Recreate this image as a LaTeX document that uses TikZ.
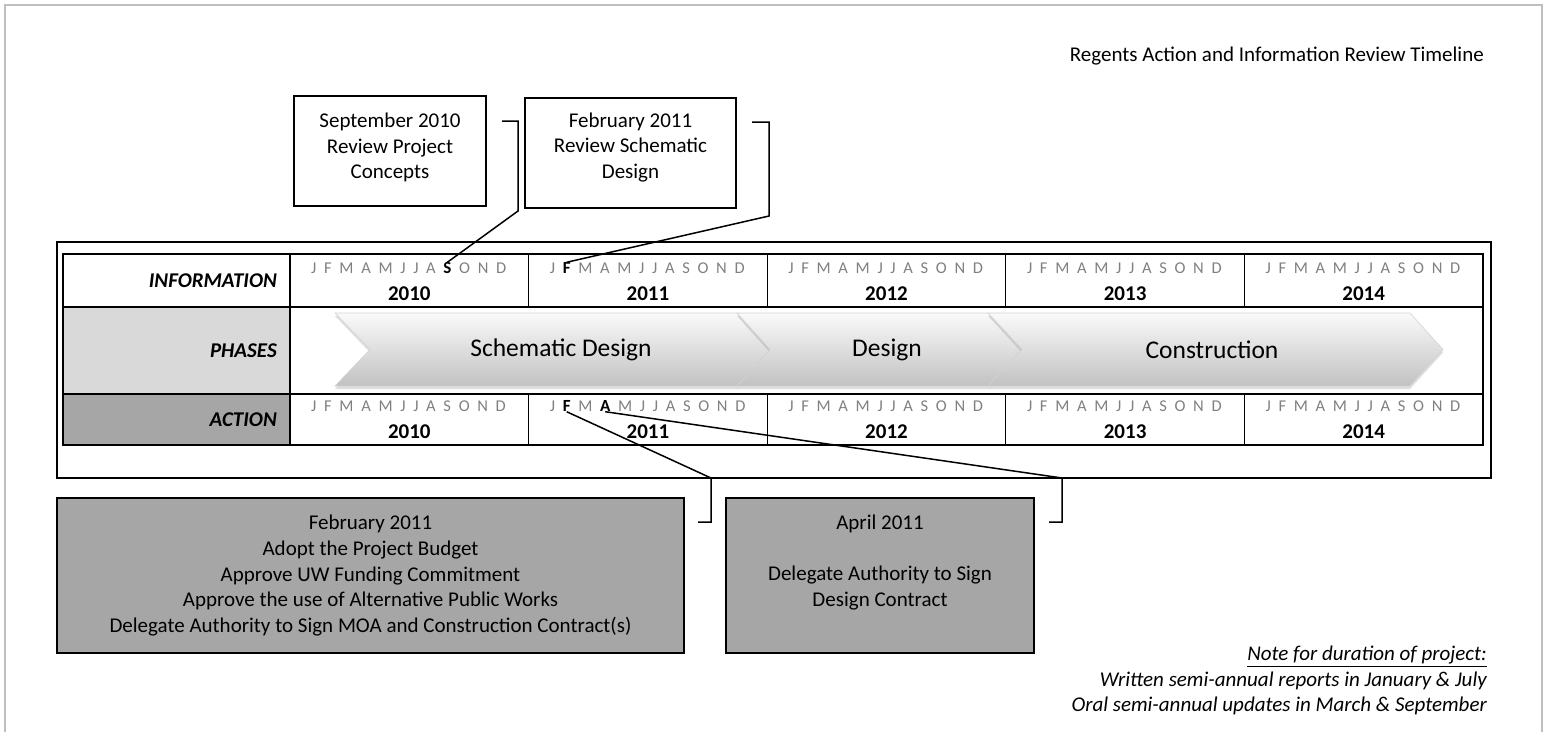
\documentclass[tikz,border=0pt]{standalone}
\usepackage{fontspec}
\setmainfont{Carlito}
\usetikzlibrary{positioning,shadows}
\definecolor{lightcell}{HTML}{D9D9D9}
\definecolor{darkcell}{HTML}{A6A6A6}
\definecolor{monthgray}{HTML}{808080}
\definecolor{pageline}{HTML}{BFBFBF}

\begin{document}
\begin{tikzpicture}[x=1pt,y=-1pt,
	txt/.style={font=\fontsize{21}{25.6}\selectfont,inner sep=0pt,align=center},
	callout/.style={rectangle,draw,line width=1.5pt,inner sep=0pt},
	actionbox/.style={callout,fill=darkcell},
	rowlabel/.style={anchor=east,inner sep=0pt,font=\fontsize{21}{24}\selectfont\bfseries\itshape},
	month/.style={inner sep=0pt,text=monthgray,font=\fontsize{16.5}{18}\selectfont},
	bold month/.style={text=black,font=\fontsize{17}{18}\selectfont\bfseries},
	hl info-2010-9/.style={bold month},
	hl info-2011-2/.style={bold month},
	hl act-2011-2/.style={bold month},
	hl act-2011-4/.style={bold month},
	year/.style={anchor=base,inner sep=0pt,font=\fontsize{21}{24}\selectfont\bfseries},
	phase/.style={top color=gray!4,bottom color=gray!48,draw=gray!35,line width=0.6pt,drop shadow={opacity=0.25,shadow xshift=0pt,shadow yshift=-3pt}},
	phasetext/.style={inner sep=0pt,font=\fontsize{25.5}{28}\selectfont},
	leader/.style={line width=1.5pt}]
	\useasboundingbox (0,0) rectangle (1546,732);
	\draw[pageline,line width=2pt] (5,732) -- (5,5) -- (1542,5) -- (1542,732);
	\node[txt,anchor=base east] (title) at (1484,61) {Regents Action and Information Review Timeline};

	\node[callout,minimum width=192pt,minimum height=110pt] (sepbox) at (390,151) {};
	\node[txt] (septext) at (390,147.5) {September 2010\\Review Project\\Concepts};
	\node[callout,minimum width=211pt,minimum height=110pt] (febbox) at (630.5,153) {};
	\node[txt] (febtext) at (630.5,147.5) {February 2011\\Review Schematic\\Design};

	\draw[line width=2pt] (57,242) rectangle (1491,478);
	\fill[lightcell] (63,307) rectangle (290,394);
	\fill[darkcell] (63,394) rectangle (290,445);
	\draw[line width=1.5pt] (63,254) rectangle (1483,445);
	\draw[line width=1.5pt] (63,307) -- (1483,307) (63,394) -- (1483,394) (290,254) -- (290,445);
	\foreach \x in {528.6,767.2,1005.8,1244.4}
		\draw[line width=1.2pt] (\x,254) -- (\x,307) (\x,394) -- (\x,445);

	\node[rowlabel] (inforow) at (277,280.5) {INFORMATION};
	\node[rowlabel] (phaserow) at (277,350.5) {PHASES};
	\node[rowlabel] (actrow) at (277,419.5) {ACTION};

	\path[phase] (335,313) -- (737,313) -- (770,349.5) -- (737,386) -- (335,386) -- (370,349.5) -- cycle;
	\path[phase] (737,313) -- (988,313) -- (1022,349.5) -- (988,386) -- (737,386) -- (770,349.5) -- cycle;
	\path[phase] (988,313) -- (1410,313) -- (1443,349.5) -- (1410,386) -- (988,386) -- (1022,349.5) -- cycle;
	\node[phasetext] (schematic) at (561,350) {Schematic Design};
	\node[phasetext] (design) at (887,350) {Design};
	\node[phasetext] (construction) at (1212,350) {Construction};

	\foreach \yr [count=\i from 0] in {2010,2011,2012,2013,2014} {
		\node[month,anchor=base west] (info-\yr-1) at (311+238.6*\i,273.5) {J};
		\node[month,anchor=base west] (act-\yr-1) at (311+238.6*\i,411.5) {J};
		\foreach \m [count=\k from 2] in {F,M,A,M,J,J,A,S,O,N,D} {
			\pgfmathtruncatemacro\p{\k-1}
			\node[month,hl info-\yr-\k/.try,base right=7.3pt of info-\yr-\p] (info-\yr-\k) {\m};
			\node[month,hl act-\yr-\k/.try,base right=7.3pt of act-\yr-\p] (act-\yr-\k) {\m};
		}
		\node[year] (infoyear-\yr) at (409.3+238.6*\i,300) {\yr};
		\node[year] (actyear-\yr) at (409.3+238.6*\i,438.5) {\yr};
	}

	\coordinate (sepend) at (502,121);
	\draw[leader] (sepend) -- ++(16,0) -- ++(0,90) -- (info-2010-9.north);
	\coordinate (febend) at (752,122);
	\draw[leader] (febend) -- ++(17,0) -- ++(0,94) -- (info-2011-2.north);

	\node[actionbox,minimum width=627pt,minimum height=155pt] (budgetbox) at (370.5,575.5) {};
	\node[txt] (budgettext) at (370.5,575.5) {February 2011\\Adopt the Project Budget\\Approve UW Funding Commitment\\Approve the use of Alternative Public Works\\Delegate Authority to Sign MOA and Construction Contract(s)};
	\node[actionbox,minimum width=308pt,minimum height=155pt] (contractbox) at (880,575.5) {};
	\node[txt] (contracttext) at (880,562.5) {April 2011\\[25.6pt]Delegate Authority to Sign\\Design Contract};

	\coordinate (budgetend) at (698,522);
	\draw[leader] (budgetend) -- ++(13,0) -- ++(0,-44) -- (act-2011-2.south);
	\coordinate (contractend) at (1049,522);
	\draw[leader] (contractend) -- ++(13,0) -- ++(0,-44) -- (act-2011-4.south);

	\node[txt,anchor=north east,align=right,font=\fontsize{21}{25.6}\selectfont\itshape] (note) at (1487,646) {\underline{Note for duration of project:}\\Written semi-annual reports in January \& July\\Oral semi-annual updates in March \& September};
\end{tikzpicture}
\end{document}
